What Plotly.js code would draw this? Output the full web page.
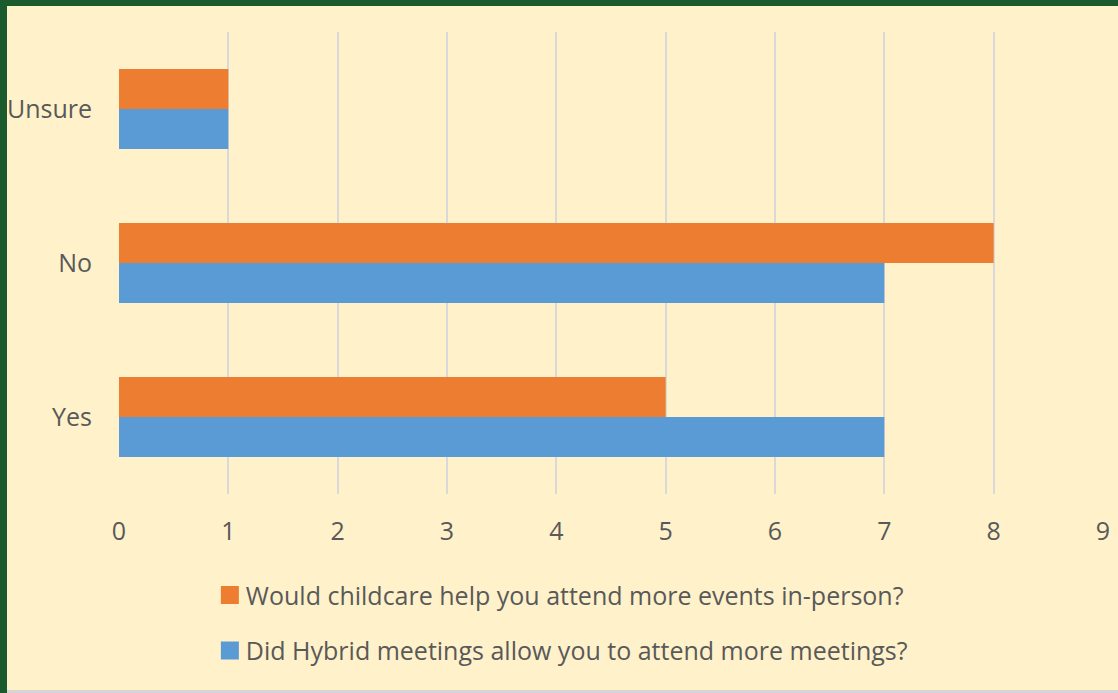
<!DOCTYPE html>
<html>
<head>
<meta charset="utf-8">
<script src="https://cdn.plot.ly/plotly-3.0.1.min.js"></script>
<style>
  html, body { margin: 0; padding: 0; width: 1118px; height: 693px; overflow: hidden; background: #1B5A2C; }
  #frame { position: absolute; left: 7px; top: 6px; width: 1111px; height: 687px; background: #D6D6D6; }
  #chart { position: absolute; left: 7px; top: 6px; width: 1111px; height: 684px; }
</style>
</head>
<body>
<div id="frame"></div>
<div id="chart"></div>
<script>
const categories = ['Yes', 'No', 'Unsure'];
const hybridName = 'Did Hybrid meetings allow you to attend more meetings?';
const hybridValues = [7, 7, 1];
const childcareName = 'Would childcare help you attend more events in-person?';
const childcareValues = [5, 8, 1];
const xTicks = [0, 1, 2, 3, 4, 5, 6, 7, 8, 9];

const fontFam = '"Open Sans", Lato, sans-serif';
const textColor = '#595959';

const traces = [
  { type: 'bar', orientation: 'h', name: hybridName, y: categories, x: hybridValues,
    marker: { color: '#5B9BD5' }, legendgroup: 'b', legendrank: 2, hoverinfo: 'x+y' },
  { type: 'bar', orientation: 'h', name: childcareName, y: categories, x: childcareValues,
    marker: { color: '#ED7D31' }, legendgroup: 'a', legendrank: 1, hoverinfo: 'x+y' }
];

const layout = {
  width: 1111, height: 684,
  paper_bgcolor: '#FFF1CA', plot_bgcolor: '#FFF1CA',
  margin: { l: 112, r: 15, t: 26, b: 196, autoexpand: false },
  barmode: 'group', bargap: 0.48, bargroupgap: 0,
  font: { family: fontFam, color: textColor, size: 25 },
  xaxis: {
    range: [0, 9], tickvals: xTicks, ticktext: xTicks.map(String),
    showgrid: true, gridcolor: '#D9D9D9', gridwidth: 2,
    zeroline: false, showline: false, ticks: '',
    tickfont: { size: 25, color: textColor, family: fontFam },
    ticklabelstandoff: 20, fixedrange: true, automargin: false
  },
  yaxis: {
    type: 'category', categoryorder: 'array', categoryarray: categories,
    showgrid: false, zeroline: false, showline: false, ticks: '',
    tickfont: { size: 25, color: textColor, family: fontFam },
    ticklabelstandoff: 26, fixedrange: true, automargin: false
  },
  showlegend: true,
  legend: {
    traceorder: 'grouped', tracegroupgap: 20,
    xref: 'container', yref: 'container',
    x: 0.179, y: 0.172, xanchor: 'left', yanchor: 'top',
    bgcolor: 'rgba(0,0,0,0)',
    font: { size: 25, color: textColor, family: fontFam },
    itemwidth: 30
  }
};

Plotly.newPlot('chart', traces, layout, { displayModeBar: false, staticPlot: true }).then(function (gd) {
  gd.querySelectorAll('.legend .legendpoints path').forEach(function (p) {
    const t = p.getAttribute('transform') || '';
    const bb = p.getBBox();
    const cx = bb.x + bb.width / 2, cy = bb.y + bb.height / 2;
    const s = 18 / Math.max(bb.width, 1);
    p.setAttribute('transform', t + ' translate(' + (cx + 4) + ',' + cy + ') scale(' + s + ') translate(' + (-cx) + ',' + (-cy) + ')');
  });
});
</script>
</body>
</html>
